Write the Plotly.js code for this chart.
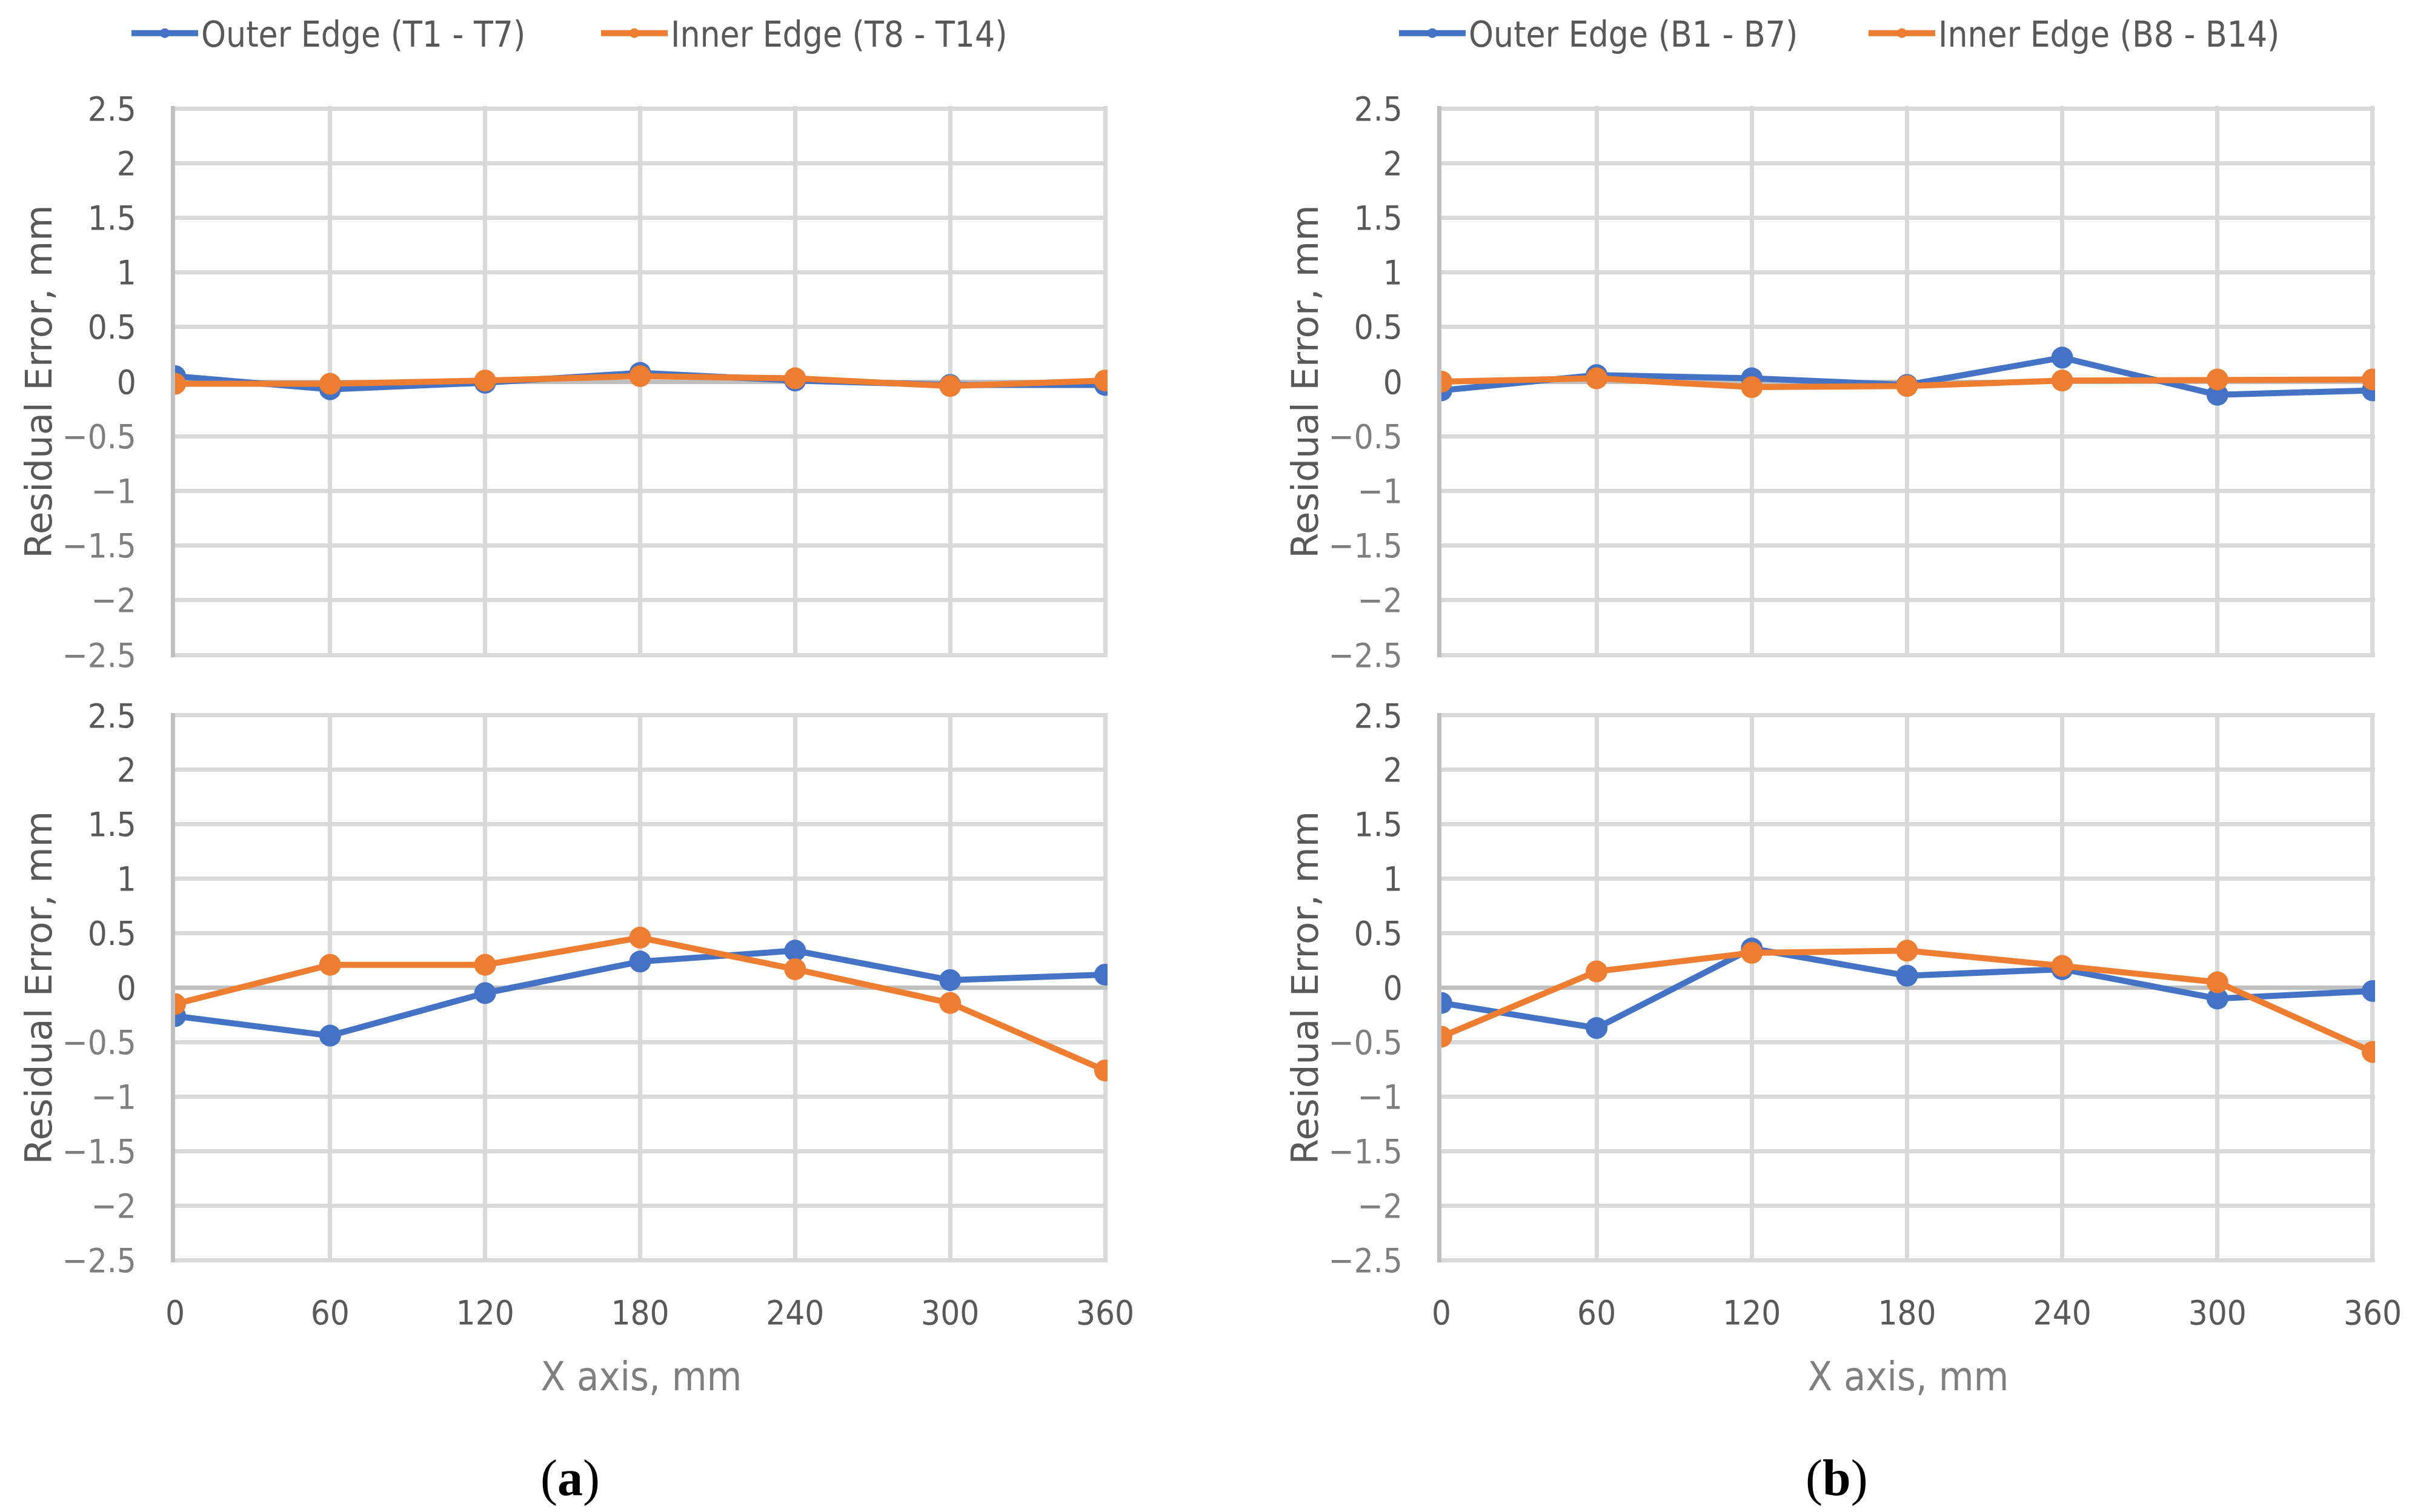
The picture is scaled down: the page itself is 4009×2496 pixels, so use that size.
<!DOCTYPE html>
<html>
<head>
<meta charset="utf-8">
<script src="https://cdn.plot.ly/plotly-3.0.1.min.js"></script>
<style>html,body{margin:0;padding:0;background:#fff;}#chart{width:4009px;height:2496px;}</style>
</head>
<body>
<div id="chart"></div>
<script>
// ---- data ----
var xPositions = [0, 60, 120, 180, 240, 300, 360];
var xTickLabels = ['0', '60', '120', '180', '240', '300', '360'];
var yTickValues = [-2.5, -2, -1.5, -1, -0.5, 0, 0.5, 1, 1.5, 2, 2.5];
var yTickLabels = ['\u22122.5', '\u22122', '\u22121.5', '\u22121', '\u22120.5', '0', '0.5', '1', '1.5', '2', '2.5'];

var seriesNamesT = ['Outer Edge (T1 - T7)', 'Inner Edge (T8 - T14)'];
var seriesNamesB = ['Outer Edge (B1 - B7)', 'Inner Edge (B8 - B14)'];

var topOuterT = [0.05, -0.07, -0.01, 0.08, 0.01, -0.03, -0.03];
var topInnerT = [-0.02, -0.02, 0.01, 0.05, 0.03, -0.04, 0.01];
var botOuterT = [-0.26, -0.44, -0.05, 0.24, 0.34, 0.07, 0.12];
var botInnerT = [-0.15, 0.21, 0.21, 0.46, 0.17, -0.14, -0.76];

var topOuterB = [-0.08, 0.06, 0.03, -0.03, 0.22, -0.12, -0.08];
var topInnerB = [0.00, 0.03, -0.05, -0.04, 0.01, 0.02, 0.02];
var botOuterB = [-0.14, -0.37, 0.36, 0.11, 0.17, -0.10, -0.03];
var botInnerB = [-0.45, 0.15, 0.32, 0.34, 0.20, 0.05, -0.59];

var panelLabels = ['(<b>a</b>)', '(<b>b</b>)'];
var xTitleText = 'X axis, mm';
var yTitleText = 'Residual Error, mm';

// ---- styling ----
var W = 4009, H = 2496;
var BLUE = '#4472c4', ORANGE = '#ed7d31';
var TICKFONT = 'DejaVu Sans Condensed, Liberation Sans Narrow, Open Sans, sans-serif';
var TITLEFONT = 'DejaVu Sans, Verdana, sans-serif';

function px2x(p) { return p / W; }
function px2y(p) { return 1 - p / H; }

var yTickText = yTickLabels.map(function (t, i) {
  return yTickValues[i] < 0 ? '<span style="color:#7f7f7f">' + t + '</span>' : t;
});

function trace(y, name, color, xa, ya, legend, showlegend) {
  return {
    type: 'scatter', mode: 'lines+markers',
    x: xPositions, y: y, name: name,
    xaxis: xa, yaxis: ya, legend: legend, showlegend: showlegend,
    line: { color: color, width: 10 },
    marker: { color: color, size: 36 },
    hoverinfo: 'skip'
  };
}

var data = [
  trace(topOuterT, seriesNamesT[0], BLUE, 'x', 'y', 'legend', true),
  trace(topInnerT, seriesNamesT[1], ORANGE, 'x', 'y', 'legend', true),
  trace(botOuterT, seriesNamesT[0], BLUE, 'x3', 'y3', 'legend', false),
  trace(botInnerT, seriesNamesT[1], ORANGE, 'x3', 'y3', 'legend', false),
  trace(topOuterB, seriesNamesB[0], BLUE, 'x2', 'y2', 'legend2', true),
  trace(topInnerB, seriesNamesB[1], ORANGE, 'x2', 'y2', 'legend2', true),
  trace(botOuterB, seriesNamesB[0], BLUE, 'x4', 'y4', 'legend2', false),
  trace(botInnerB, seriesNamesB[1], ORANGE, 'x4', 'y4', 'legend2', false)
];

// plot areas (pixels), padded by half a grid line so edge grid lines are kept
var PAD = 4;
var leftDom = [px2x(289), px2x(1824 + PAD)];
var rightDom = [px2x(2379), px2x(3916 + PAD)];
var topDom = [px2y(1081 + PAD), px2y(179 - PAD)];
var botDom = [px2y(2080 + PAD), px2y(1181 - PAD)];
var yPadUnits = PAD * 5 / 902;
var xPadUnits = PAD * 360 / 1535;

function xAxis(dom, anchor, showLabels) {
  var a = {
    domain: dom, anchor: anchor, range: [0, 360 + xPadUnits],
    tickmode: 'array', tickvals: xPositions, ticktext: xTickLabels,
    showticklabels: showLabels,
    ticks: showLabels ? 'outside' : '', ticklen: 34, tickcolor: 'rgba(0,0,0,0)',
    tickfont: { family: TICKFONT, size: 56, color: '#595959' },
    showgrid: true, gridcolor: '#d9d9d9', gridwidth: 7,
    zeroline: false, showline: false, fixedrange: true
  };
  if (showLabels) {
    a.title = { text: xTitleText, standoff: 50, font: { family: TICKFONT, size: 66, color: '#7f7f7f' } };
  }
  return a;
}

function yAxis(dom, anchor) {
  return {
    domain: dom, anchor: anchor, range: [-2.5 - yPadUnits, 2.5 + yPadUnits],
    tickmode: 'array', tickvals: yTickValues, ticktext: yTickText,
    ticks: 'outside', ticklen: 46, tickcolor: 'rgba(0,0,0,0)',
    tickfont: { family: TICKFONT, size: 56, color: '#595959' },
    showgrid: true, gridcolor: '#d9d9d9', gridwidth: 7,
    zeroline: true, zerolinecolor: '#bfbfbf', zerolinewidth: 7,
    showline: true, linecolor: '#bfbfbf', linewidth: 7,
    title: { text: yTitleText, standoff: 0, font: { family: TITLEFONT, size: 61, color: '#595959' } },
    fixedrange: true
  };
}

var legendCommon = {
  orientation: 'h', yanchor: 'middle', xanchor: 'left',
  font: { family: TICKFONT, size: 58, color: '#595959' },
  bgcolor: 'rgba(0,0,0,0)', itemwidth: 110, entrywidth: 650, entrywidthmode: 'pixels',
  itemclick: false, itemdoubleclick: false
};

var layout = {
  width: W, height: H,
  margin: { l: 0, r: 0, t: 0, b: 0 },
  paper_bgcolor: '#ffffff', plot_bgcolor: '#ffffff',
  showlegend: true,
  xaxis: xAxis(leftDom, 'y', false),
  yaxis: yAxis(topDom, 'x'),
  xaxis2: xAxis(rightDom, 'y2', false),
  yaxis2: yAxis(topDom, 'x2'),
  xaxis3: xAxis(leftDom, 'y3', true),
  yaxis3: yAxis(botDom, 'x3'),
  xaxis4: xAxis(rightDom, 'y4', true),
  yaxis4: yAxis(botDom, 'x4'),
  legend: Object.assign({}, legendCommon, { x: px2x(212), y: px2y(55) }),
  legend2: Object.assign({}, legendCommon, { x: px2x(2304), y: px2y(55) }),
  annotations: [
    { text: panelLabels[0], xref: 'paper', yref: 'paper', x: px2x(941), y: px2y(2440),
      xanchor: 'center', yanchor: 'middle', showarrow: false,
      font: { family: 'Liberation Serif, Times New Roman, serif', size: 84, color: '#000000' } },
    { text: panelLabels[1], xref: 'paper', yref: 'paper', x: px2x(3031), y: px2y(2440),
      xanchor: 'center', yanchor: 'middle', showarrow: false,
      font: { family: 'Liberation Serif, Times New Roman, serif', size: 84, color: '#000000' } }
  ]
};

Plotly.newPlot('chart', data, layout, { staticPlot: true, displayModeBar: false });
</script>
</body>
</html>
